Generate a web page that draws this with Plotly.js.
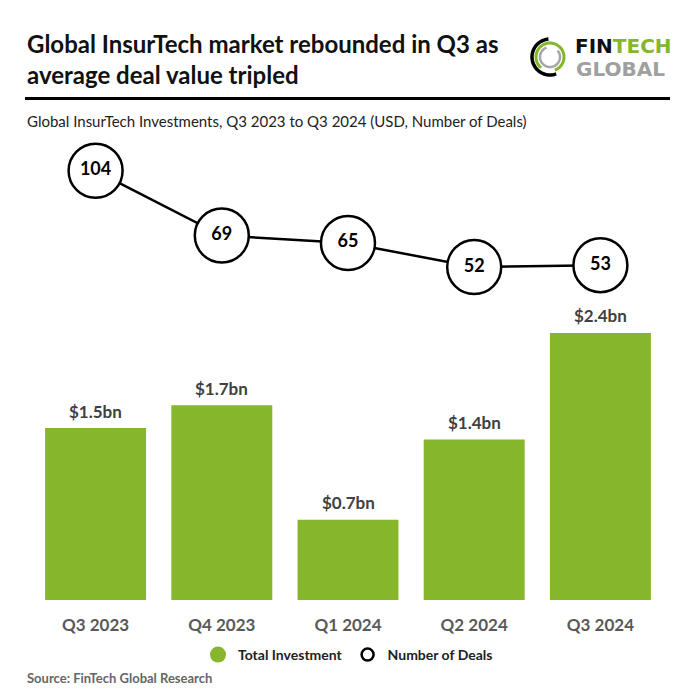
<!DOCTYPE html>
<html>
<head>
<meta charset="utf-8">
<script src="https://cdn.plot.ly/plotly-3.0.1.min.js"></script>
<style>html,body{margin:0;padding:0;background:#fff;}#chart{width:696px;height:696px;}</style>
</head>
<body>
<div id="chart"></div>
<script>
// ---- data ----
const quarters = ["Q3 2023", "Q4 2023", "Q1 2024", "Q2 2024", "Q3 2024"];
const investment = [1.5, 1.7, 0.7, 1.4, 2.33];           // USD bn (bar heights)
const investmentLabels = ["$1.5bn", "$1.7bn", "$0.7bn", "$1.4bn", "$2.4bn"];
const deals = [104, 69, 65, 52, 53];

// ---- helpers (margin 0 → paper fraction = pixel / 696) ----
const W = 696;
const px = x => x / W;
const py = y => 1 - y / W;
const GREEN = '#85b62b';
const FONT = 'Lato, "Open Sans", sans-serif';

function arcPath(cx, cy, r, a0, a1) {
  let d = '';
  const n = 40;
  for (let i = 0; i <= n; i++) {
    const a = (a0 + (a1 - a0) * i / n) * Math.PI / 180;
    const x = px(cx + r * Math.cos(a));
    const y = py(cy - r * Math.sin(a));
    d += (i === 0 ? 'M' : 'L') + x.toFixed(5) + ',' + y.toFixed(5);
  }
  return d;
}

const traces = [
  {
    type: 'bar', x: quarters, y: investment,
    marker: {color: GREEN}, showlegend: false, hoverinfo: 'skip'
  },
  {
    type: 'scatter', x: quarters, y: deals, yaxis: 'y2',
    mode: 'lines+markers+text', text: deals.map(String), textposition: 'middle center',
    textfont: {family: FONT, size: 18, color: '#000', weight: 'bold'},
    line: {color: '#000', width: 2.5},
    marker: {size: 54, color: '#fff', line: {color: '#000', width: 2.5}},
    cliponaxis: false, showlegend: false, hoverinfo: 'skip'
  },
  {
    type: 'scatter', x: [null], y: [null], mode: 'markers', name: 'Total Investment',
    marker: {size: 16, color: GREEN}
  },
  {
    type: 'scatter', x: [null], y: [null], mode: 'markers', name: 'Number of Deals',
    marker: {size: 12, color: '#fff', line: {color: '#000', width: 2.5}}
  }
];

// value labels above bars, built from the data arrays
const barLabels = quarters.map((q, i) => ({
  x: q, y: investment[i], xref: 'x', yref: 'y', yanchor: 'middle', yshift: 17,
  showarrow: false, text: investmentLabels[i],
  font: {family: FONT, size: 17, color: '#404040', weight: 'bold'}
}));

const layout = {
  width: 696, height: 696,
  margin: {l: 0, r: 0, t: 0, b: 0},
  paper_bgcolor: '#fff', plot_bgcolor: 'rgba(0,0,0,0)',
  bargap: 0.2,
  showlegend: true,
  legend: {
    orientation: 'h', x: 0.5, xanchor: 'center', y: py(655), yanchor: 'middle',
    font: {family: FONT, size: 14, color: '#222', weight: 'bold'},
    itemsizing: 'trace', traceorder: 'normal', itemwidth: 30
  },
  xaxis: {
    domain: [px(32.5), px(663.5)], range: [-0.5, 4.5],
    showgrid: false, zeroline: false, showline: false, ticks: '',
    tickfont: {family: FONT, size: 17, color: '#595959', weight: 'bold'},
    ticklabelstandoff: 13, fixedrange: true
  },
  yaxis: {
    domain: [py(600), py(150)], range: [0, 450 / 114.6],
    visible: false, fixedrange: true
  },
  yaxis2: {
    overlaying: 'y', range: [-(600 - 363.2) / 1.85, (363.2 - 150) / 1.85],
    visible: false, fixedrange: true
  },
  shapes: [
    {type: 'line', xref: 'paper', yref: 'paper', x0: px(25), x1: px(670), y0: py(98.5), y1: py(98.5),
     line: {color: '#000', width: 3}},
    {type: 'path', xref: 'paper', yref: 'paper', path: arcPath(550, 57, 18, 95, 290),
     line: {color: '#000', width: 3.5}},
    {type: 'path', xref: 'paper', yref: 'paper', path: arcPath(550, 57, 14, -70, 230),
     line: {color: GREEN, width: 3}},
    {type: 'path', xref: 'paper', yref: 'paper', path: arcPath(550, 57, 10, 110, 400),
     line: {color: '#a6a6a6', width: 2.5}}
  ],
  annotations: barLabels.concat([
    {xref: 'paper', yref: 'paper', x: px(25), y: py(59), xanchor: 'left', yanchor: 'middle', align: 'left',
     showarrow: false, text: 'Global InsurTech market rebounded in Q3 as<br>average deal value tripled',
     font: {family: FONT, size: 24, color: '#111', weight: 'bold'}},
    {xref: 'paper', yref: 'paper', x: px(25), y: py(121), xanchor: 'left', yanchor: 'middle',
     showarrow: false, text: 'Global InsurTech Investments, Q3 2023 to Q3 2024 (USD, Number of Deals)',
     font: {family: FONT, size: 15, color: '#222'}},
    {xref: 'paper', yref: 'paper', x: px(573), y: py(45.5), xanchor: 'left', yanchor: 'middle',
     showarrow: false, text: 'FIN<span style="color:' + GREEN + '">TECH</span>',
     font: {family: 'DejaVu Sans, sans-serif', size: 20, color: '#111', weight: 'bold'}},
    {xref: 'paper', yref: 'paper', x: px(574), y: py(69), xanchor: 'left', yanchor: 'middle',
     showarrow: false, text: 'GLOBAL',
     font: {family: 'DejaVu Sans, sans-serif', size: 20, color: '#a0a0a0', weight: 'bold'}},
    {xref: 'paper', yref: 'paper', x: px(25), y: py(678), xanchor: 'left', yanchor: 'middle',
     showarrow: false, text: 'Source: FinTech Global Research',
     font: {family: FONT, size: 13, color: '#666', weight: 'bold'}}
  ])
};

Plotly.newPlot('chart', traces, layout, {staticPlot: true, displayModeBar: false});
</script>
</body>
</html>
